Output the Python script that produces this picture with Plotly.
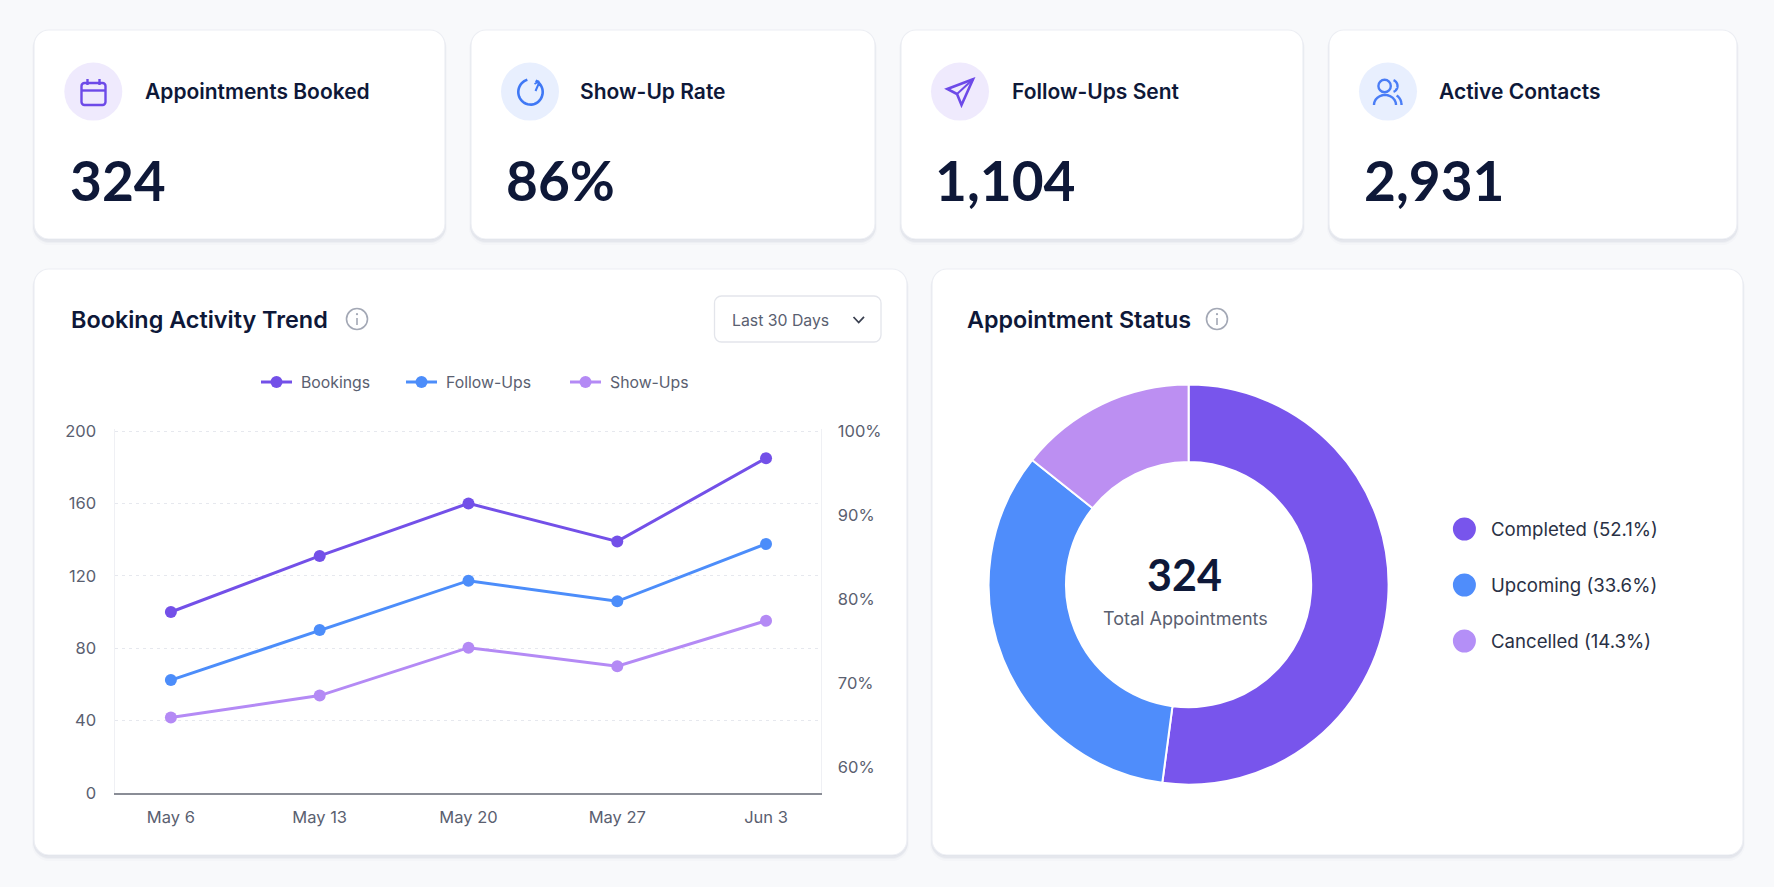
import math
import plotly.graph_objects as go

W, H = 1774, 887
FONT = "Inter"
NUM_FONT = "Lato"
INK = "#0E1838"
GREY = "#5A6070"
PURPLE = "#7350E8"
BLUE = "#4C8DFA"
LILAC = "#B48AF5"

# KPI cards
kpi_titles = ["Appointments Booked", "Show-Up Rate", "Follow-Ups Sent", "Active Contacts"]
kpi_values = ["324", "86%", "1,104", "2,931"]

# Trend chart
trend_dates = ["May 6", "May 13", "May 20", "May 27", "Jun 3"]
bookings = [100, 131, 160, 139, 185]
follow_ups = [62.4, 90, 117.3, 105.9, 137.6]
show_ups_pct = [65.9, 68.5, 74.2, 72.0, 77.4]
left_ticks = [0, 40, 80, 120, 160, 200]
right_ticks = [60, 70, 80, 90, 100]
right_tick_text = ["60%", "70%", "80%", "90%", "100%"]

# Donut chart
status_names = ["Completed", "Upcoming", "Cancelled"]
status_shares = [52.1, 33.6, 14.3]
status_colors = ["#7855EC", "#4F8DFB", "#BC8FF2"]
status_keys = ["#7855EC", "#4F8DFB", "#B48FF7"]
status_total = "324"


def px(x):
    return x / W


def py(y):
    return 1 - y / H


def pt(x, y):
    return f"{px(x):.5f},{py(y):.5f}"


def shape_path(d, **kw):
    return dict(type="path", xref="paper", yref="paper", path=d, **kw)


def rounded(x0, y0, x1, y1, r):
    k = r * 0.45
    return (
        f"M{pt(x0 + r, y0)} L{pt(x1 - r, y0)} "
        f"C{pt(x1 - k, y0)} {pt(x1, y0 + k)} {pt(x1, y0 + r)} "
        f"L{pt(x1, y1 - r)} C{pt(x1, y1 - k)} {pt(x1 - k, y1)} {pt(x1 - r, y1)} "
        f"L{pt(x0 + r, y1)} C{pt(x0 + k, y1)} {pt(x0, y1 - k)} {pt(x0, y1 - r)} "
        f"L{pt(x0, y0 + r)} C{pt(x0, y0 + k)} {pt(x0 + k, y0)} {pt(x0 + r, y0)} Z"
    )


def polyline(points, closed=False):
    d = "M" + " L".join(pt(x, y) for x, y in points)
    return d + (" Z" if closed else "")


def arc(cx, cy, rx, ry, a0, a1, n=40):
    # Angles run clockwise from north, in degrees.
    out = []
    for i in range(n + 1):
        a = math.radians(a0 + (a1 - a0) * i / n)
        out.append((cx + rx * math.sin(a), cy - ry * math.cos(a)))
    return out


def circle(cx, cy, r, fill="rgba(0,0,0,0)", line=None, width=0):
    return dict(
        type="circle", xref="paper", yref="paper",
        x0=px(cx - r), x1=px(cx + r), y0=py(cy + r), y1=py(cy - r),
        fillcolor=fill, line=dict(color=line or fill, width=width),
    )


def stroke(points, color, width=2.2, closed=False):
    return shape_path(polyline(points, closed), line=dict(color=color, width=width))


shapes = []


def card(x0, y0, x1, y1, r=15):
    # Soft drop shadow built from stacked translucent outlines
    for off, grow, alpha in [(4, 2, 0.018), (3, 1, 0.03), (2, 1, 0.04), (1, 0, 0.05)]:
        shapes.append(shape_path(
            rounded(x0 - grow, y0 - grow + off, x1 + grow, y1 + grow + off, r + grow),
            fillcolor=f"rgba(40,50,90,{alpha})", line=dict(width=0), layer="below",
        ))
    shapes.append(shape_path(
        rounded(x0, y0, x1, y1, r),
        fillcolor="#FFFFFF", line=dict(color="#ECEEF3", width=1.2), layer="below",
    ))


kpi_boxes = [(34, 445), (471, 875), (901, 1303), (1329, 1737)]
for a, b in kpi_boxes:
    card(a, 30, b, 239)
card(34, 269, 907, 855)
card(932, 269, 1743, 855)

# Icon discs
ICON_Y = 91.6
icon_x = [93.3, 530, 960, 1388]
icon_bg = ["#EFEAFD", "#E8EFFE", "#EFEAFD", "#E8EFFE"]
for cx, bg in zip(icon_x, icon_bg):
    shapes.append(circle(cx, ICON_Y, 29, fill=bg))

# Calendar icon
VIOLET = "#6D4AE8"
shapes.append(shape_path(rounded(81.5, 83, 105.5, 105, 3), line=dict(color=VIOLET, width=2.4)))
shapes.append(stroke([(81.5, 90.5), (105.5, 90.5)], VIOLET, 2.4))
shapes.append(stroke([(87.5, 79), (87.5, 85)], VIOLET, 2.4))
shapes.append(stroke([(99.5, 79), (99.5, 85)], VIOLET, 2.4))

# Rate dial icon
ROYAL = "#3F78F5"
shapes.append(stroke(arc(530.5, 92, 12.2, 12.6, 25, 345), ROYAL, 2.6))
shapes.append(stroke([(539, 83), (535.5, 91)], ROYAL, 2))
shapes.append(stroke([(534.5, 84), (538.5, 81.5), (540, 86)], ROYAL, 1.8))

# Paper plane icon
shapes.append(stroke([(973, 79.3), (947.3, 89), (957, 94), (961.5, 105)], VIOLET, 2.6, closed=True))
shapes.append(stroke([(973, 79.3), (957, 94)], VIOLET, 2))

# Contacts icon
CONTACT = "#4A7DF6"
shapes.append(circle(1384.6, 86, 6.2, line=CONTACT, width=2.4))
shapes.append(stroke(arc(1385, 105, 11, 10, -90, 90), CONTACT, 2.4))
shapes.append(stroke(arc(1391.5, 86, 6, 6.2, 20, 160), CONTACT, 2.4))
shapes.append(stroke(arc(1394, 105, 7.5, 10, 20, 90), CONTACT, 2.4))

# Info glyphs beside panel titles
INFO = "#A3A8B5"
for cx in (357, 1217):
    shapes.append(circle(cx, 319, 10.5, fill="rgba(255,255,255,0)", line=INFO, width=1.6))
    shapes.append(circle(cx, 314.2, 1.1, fill=INFO))
    shapes.append(stroke([(cx, 318), (cx, 325)], INFO, 1.6))

# Period selector
shapes.append(shape_path(rounded(714.5, 296, 881, 342, 7),
                         fillcolor="#FFFFFF", line=dict(color="#E3E5EB", width=1.3)))
shapes.append(stroke([(853.5, 317), (858.7, 322.5), (864, 317)], "#3A4050", 1.8))

# Donut legend keys
legend_y = [529, 585, 641]
for yy, col in zip(legend_y, status_keys):
    shapes.append(circle(1464.4, yy, 11.5, fill=col))

annotations = []


def label(x, y, text, size, color=INK, weight=400, anchor="left", family=FONT):
    annotations.append(dict(
        xref="paper", yref="paper", x=px(x), y=py(y), text=text, showarrow=False,
        xanchor=anchor, yanchor="middle", align=anchor,
        font=dict(family=family, size=size, color=color, weight=weight),
        borderpad=0, borderwidth=0,
    ))


title_x = [145, 580, 1012, 1439]
value_x = [70, 506, 935, 1364]
for tx, vx, t, v in zip(title_x, value_x, kpi_titles, kpi_values):
    label(tx, 92, t, 21, weight=600)
    label(vx, 180, v, 55, weight=700, family=NUM_FONT)

label(71, 319, "Booking Activity Trend", 23.4, weight=600)
label(967, 319, "Appointment Status", 23.3, weight=600)
label(732, 320, "Last 30 Days", 15.8, color=GREY)
label(1184, 574, status_total, 43, weight=700, anchor="center", family=NUM_FONT)
label(1185, 618, "Total Appointments", 18, color=GREY, anchor="center")
for yy, name, share in zip(legend_y, status_names, status_shares):
    label(1491, yy, f"{name} ({share}%)", 18.6, color="#2A3145")

# Trend chart legend row
trend_names = ["Bookings", "Follow-Ups", "Show-Ups"]
trend_colors = [PURPLE, BLUE, LILAC]
key_x = [261, 406, 570]
for kx, name, col in zip(key_x, trend_names, trend_colors):
    shapes.append(stroke([(kx, 382), (kx + 31, 382)], col, 3))
    shapes.append(circle(kx + 15.5, 382, 6, fill=col))
    label(kx + 40, 382, name, 15.8, color=GREY)

fig = go.Figure()

for name, vals, col, axis in zip(trend_names, [bookings, follow_ups, show_ups_pct],
                                 trend_colors, ["y", "y", "y2"]):
    fig.add_trace(go.Scatter(
        x=trend_dates, y=vals, name=name, yaxis=axis, mode="lines+markers",
        line=dict(color=col, width=3), marker=dict(color=col, size=12),
        showlegend=False,
    ))

DONUT_D = 400
fig.add_trace(go.Pie(
    labels=status_names, values=status_shares, hole=0.613, sort=False,
    direction="clockwise", rotation=0, textinfo="none", showlegend=False,
    marker=dict(colors=status_colors, line=dict(color="#FFFFFF", width=2)),
    domain=dict(x=[px(1188.6 - DONUT_D / 2), px(1188.6 + DONUT_D / 2)],
                y=[py(584.6 + DONUT_D / 2), py(584.6 - DONUT_D / 2)]),
))

tick_font = dict(family=FONT, size=16.5, color=GREY)
fig.update_layout(
    width=W, height=H, autosize=False,
    margin=dict(l=0, r=0, t=0, b=0, autoexpand=False),
    paper_bgcolor="#F8F9FB", plot_bgcolor="rgba(0,0,0,0)",
    shapes=shapes, annotations=annotations, showlegend=False,
    font=dict(family=FONT),
    xaxis=dict(
        domain=[px(114.5), px(820.5)], type="category", range=[-0.379, 4.366],
        showgrid=False, zeroline=False, showline=True, linecolor="#8A8D96", linewidth=2,
        ticks="", tickfont=tick_font, ticklabelstandoff=8,
    ),
    # The ranges run a little past the top tick so its gridline stays drawn.
    yaxis=dict(
        domain=[py(793), py(429.19)], range=[0, 201], tickvals=left_ticks,
        showgrid=True, gridcolor="#E6E8EE", griddash="3px,4px", gridwidth=1,
        zeroline=False, showline=True, linecolor="#EFF0F4", linewidth=1,
        ticks="", tickfont=tick_font, ticklabelstandoff=14,
    ),
    yaxis2=dict(
        domain=[py(793), py(429.19)], range=[56.9, 100.215], tickvals=right_ticks,
        ticktext=right_tick_text, overlaying="y", side="right", anchor="x",
        showgrid=False, zeroline=False, showline=True, linecolor="#EFF0F4", linewidth=1,
        ticks="", tickfont=tick_font, ticklabelstandoff=13,
    ),
)

fig.write_html("out.html", config=dict(displayModeBar=False))
